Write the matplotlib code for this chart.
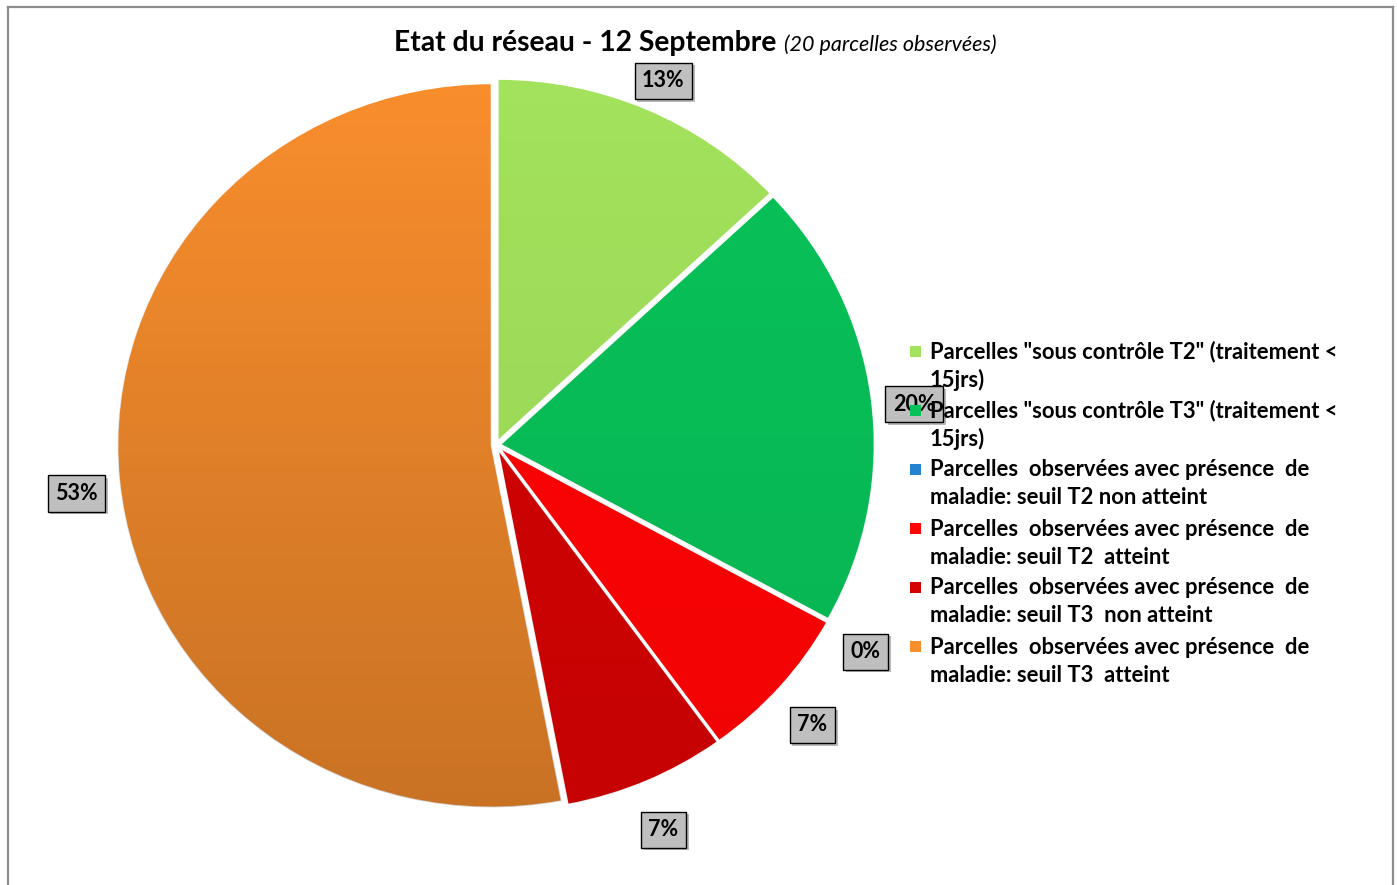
import numpy as np
import matplotlib
matplotlib.use("Agg")
import matplotlib.pyplot as plt
from matplotlib.patches import Rectangle
import matplotlib.patheffects as pe

# chart data (percent of observed plots)
categories = [
    'Parcelles "sous contrôle T2" (traitement <\n15jrs)',
    'Parcelles "sous contrôle T3" (traitement <\n15jrs)',
    'Parcelles  observées avec présence  de\nmaladie: seuil T2 non atteint',
    'Parcelles  observées avec présence  de\nmaladie: seuil T2  atteint',
    'Parcelles  observées avec présence  de\nmaladie: seuil T3  non atteint',
    'Parcelles  observées avec présence  de\nmaladie: seuil T3  atteint',
]
values = [13, 20, 0, 7, 7, 53]
colors = ["#A3E25C", "#08C259", "#2383D0", "#FF0404", "#D60303", "#F98E2D"]
shading = [0.08, 0.08, 0.08, 0.06, 0.08, 0.2]   # darkening toward the bottom

title_main = "Etat du réseau - 12 Septembre"
title_sub = "(20 parcelles observées)"

W, H = 1397, 885
FONT = "Lato"

fig = plt.figure(figsize=(W / 100, H / 100), dpi=100)

# pie axes: slightly wider than tall, like the original
cx, cy = 496, 440          # centre, pixels (y up)
rx, ry = 374, 362          # radii, pixels
ax = fig.add_axes([(cx - 1.25 * rx) / W, (cy - 1.25 * ry) / H,
                   2.5 * rx / W, 2.5 * ry / H])
ax.patch.set_alpha(0)

wedges, _, pcts = ax.pie(
    values, colors=colors, startangle=90, counterclock=False,
    explode=[0.012] * len(values), autopct="%.0f%%", pctdistance=1.115,
    wedgeprops=dict(edgecolor="white", linewidth=1.2),
    textprops=dict(fontsize=15.5, fontweight="bold", family=FONT, color="black"),
)

# soft top-to-bottom shading, as in the spreadsheet export
for w, s in zip(wedges, shading):
    shade = np.zeros((256, 1, 4))
    shade[:, 0, 3] = np.linspace(0.0, s, 256)
    im = ax.imshow(shade, extent=(-1.05, 1.05, -1.05, 1.05), aspect="auto",
                   zorder=1.5, interpolation="bilinear")
    im.set_clip_path(w)

for t in pcts:
    x, y = t.get_position()
    t.set_position((x, y - 0.028))      # Excel sits its labels a touch lower
    t.set_zorder(4)
    t.set_bbox(dict(boxstyle="square,pad=0.35", facecolor="#BFBFBF",
                    edgecolor="black", linewidth=1.0))
    t.get_bbox_patch().set_path_effects(
        [pe.SimplePatchShadow(offset=(2, -2), alpha=0.35), pe.Normal()])

ax.set_xlim(-1.25, 1.25)
ax.set_ylim(-1.25, 1.25)
ax.set_aspect("auto")
ax.axis("off")

# overlay in pixel coordinates (y down) for frame, title and legend
ov = fig.add_axes([0, 0, 1, 1])
ov.set_xlim(0, W)
ov.set_ylim(H, 0)
ov.axis("off")
ov.patch.set_alpha(0)

frame_kw = dict(color="#8C8C8C", linewidth=1.6)
ov.plot([8, 8], [7, H], **frame_kw)
ov.plot([8, 1393], [7, 7], **frame_kw)
ov.plot([1393, 1393], [7, H], **frame_kw)

ov.text(776, 43, title_main, ha="right", va="center", fontsize=20.3,
        fontweight="bold", family=FONT)
ov.text(784, 45, title_sub, ha="left", va="center", fontsize=15.5,
        fontstyle="italic", family=FONT)

# legend: square marker aligned with the first line of each label
for i, (lab, col) in enumerate(zip(categories, colors)):
    y = 352 + i * 59
    ov.add_patch(Rectangle((910, y - 6), 11, 11, facecolor=col,
                           edgecolor="none", zorder=5))
    for j, line in enumerate(lab.split("\n")):
        ov.text(930, y + j * 28, line, ha="left", va="center", fontsize=15.8,
                fontweight="bold", family=FONT, zorder=5)

fig.savefig("out.png", dpi=100, facecolor="white")
